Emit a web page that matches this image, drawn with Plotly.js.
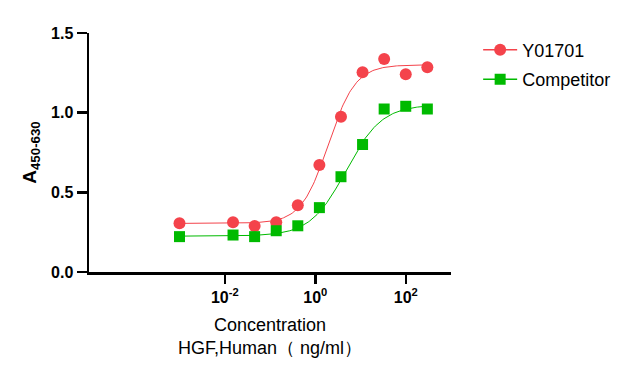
<!DOCTYPE html>
<html><head><meta charset="utf-8">
<script src="https://cdn.plot.ly/plotly-3.0.1.min.js"></script>
<style>html,body{margin:0;padding:0;background:#fff}#chart{width:638px;height:378px}</style>
</head><body><div id="chart"></div>
<script>
// Concentrations (ng/ml)
const conc = [0.001, 0.01524, 0.04572, 0.1372, 0.4115, 1.235, 3.704, 11.11, 33.33, 100, 300];
const y01701 = [0.306, 0.312, 0.289, 0.312, 0.419, 0.672, 0.975, 1.254, 1.337, 1.241, 1.285];
const competitor = [0.222, 0.232, 0.222, 0.259, 0.290, 0.404, 0.598, 0.800, 1.023, 1.040, 1.023];
// 4PL fit parameters
const fitY01701 = {bottom: 0.305, top: 1.30, ec50: 1.95, hill: 1.45};
const fitCompetitor = {bottom: 0.225, top: 1.05, ec50: 4.8, hill: 1.1};
const seriesNames = ['Y01701', 'Competitor'];
const tickVals = [0.01, 1, 100];
const tickText = ['<b>10<sup>-2</sup></b>', '<b>10<sup>0</sup></b>', '<b>10<sup>2</sup></b>'];

const red = '#F4434B', green = '#00BA00';
function curve(p) {
  const xs = [], ys = [];
  for (let i = 0; i <= 200; i++) {
    const lx = -3 + i * (Math.log10(300) + 3) / 200;
    const x = Math.pow(10, lx);
    xs.push(x);
    ys.push(p.bottom + (p.top - p.bottom) / (1 + Math.pow(p.ec50 / x, p.hill)));
  }
  return {xs, ys};
}
const c1 = curve(fitY01701), c2 = curve(fitCompetitor);
const traces = [
  {x: c1.xs, y: c1.ys, mode: 'lines', line: {color: red, width: 1}, showlegend: false, hoverinfo: 'skip'},
  {x: c2.xs, y: c2.ys, mode: 'lines', line: {color: green, width: 1}, showlegend: false, hoverinfo: 'skip'},
  {x: conc, y: y01701, mode: 'markers', marker: {symbol: 'circle', size: 12, color: red}, showlegend: false},
  {x: conc, y: competitor, mode: 'markers', marker: {symbol: 'square', size: 11, color: green}, showlegend: false},
  {x: [null], y: [null], mode: 'lines+markers', name: seriesNames[0], legendgroup: 'a', line: {color: red, width: 1.5}, marker: {symbol: 'circle', size: 12, color: red}},
  {x: [null], y: [null], mode: 'lines+markers', name: seriesNames[1], legendgroup: 'b', line: {color: green, width: 1.5}, marker: {symbol: 'square', size: 11, color: green}}
];
const font = {family: 'Liberation Sans, Arial, sans-serif', color: '#000'};
const layout = {
  width: 638, height: 378,
  margin: {l: 89, r: 187, t: 33, b: 106},
  paper_bgcolor: '#fff', plot_bgcolor: '#fff',
  font: font,
  showlegend: true,
  legend: {x: 1.075, y: 1.006, xanchor: 'left', yanchor: 'top', font: {size: 18, family: font.family}, tracegroupgap: 3, itemwidth: 34},
  xaxis: {
    type: 'log', range: [-5, 3],
    showgrid: false, zeroline: false,
    showline: true, linewidth: 2.5, linecolor: '#000',
    ticks: 'outside', ticklen: 9, tickwidth: 2.5, tickcolor: '#000',
    tickvals: tickVals, ticktext: tickText,
    tickfont: {size: 16, family: font.family},
    title: {text: 'Concentration<br>HGF,Human（ ng/ml）', font: {size: 18, family: font.family}, standoff: 14}
  },
  yaxis: {
    range: [0, 1.5],
    showgrid: false, zeroline: false,
    showline: true, linewidth: 2.5, linecolor: '#000',
    ticks: 'outside', ticklen: 10, tickwidth: 2.5, tickcolor: '#000',
    tickvals: [0, 0.5, 1.0, 1.5], ticktext: ['<b>0.0</b>', '<b>0.5</b>', '<b>1.0</b>', '<b>1.5</b>'],
    tickfont: {size: 16, family: font.family},
    title: {text: '<b>A<sub>450-630</sub></b>', font: {size: 19, family: font.family}, standoff: 10}
  }
};
Plotly.newPlot('chart', traces, layout, {displayModeBar: false, staticPlot: true});
</script></body></html>
